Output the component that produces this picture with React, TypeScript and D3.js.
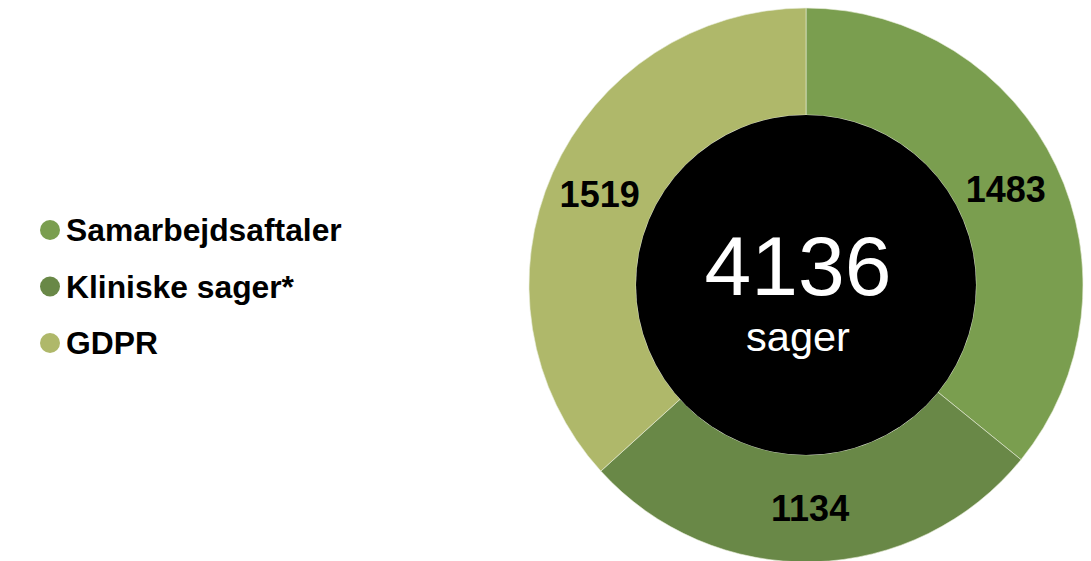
import React from 'react'
import * as d3 from 'd3'

const categories = ['Samarbejdsaftaler', 'Kliniske sager*', 'GDPR']
const values = [1483, 1134, 1519]
const colors = ['#7a9e4f', '#698847', '#afb86a']
const totalLabel = '4136'
const subLabel = 'sager'

const width = 1091
const height = 561
const cx = 806
const cy = 285
const outerR = 277
const innerR = 170
const font = '"Liberation Sans", Arial, sans-serif'

export default function App() {
  const pie = d3
    .pie<number>()
    .sort(null)
    .value((d) => d)
  const arcs = pie(values)
  const arc = d3.arc<d3.PieArcDatum<number>>().innerRadius(innerR).outerRadius(outerR)

  return (
    <svg
      width={width}
      height={height}
      style={{ position: 'absolute', left: 0, top: 0, background: '#fff' }}
    >
      <g transform={`translate(${cx},${cy})`}>
        {arcs.map((a, i) => (
          <path key={i} d={arc(a) || ''} fill={colors[i]} stroke="#e8ecd8" strokeWidth={0.6} />
        ))}
        <circle r={innerR} fill="#000" />
        {arcs.map((a, i) => {
          const [x, y] = arc.centroid(a)
          return (
            <text
              key={i}
              x={x - 2}
              y={y}
              dy="0.36em"
              textAnchor="middle"
              fontFamily={font}
              fontWeight="bold"
              fontSize={36}
              fill="#000"
            >
              {values[i]}
            </text>
          )
        })}
        <text x={-8} y={10} textAnchor="middle" fontFamily={font} fontSize={84} fill="#fff">
          {totalLabel}
        </text>
        <text x={-8} y={66} textAnchor="middle" fontFamily={font} fontSize={41.5} fill="#fff">
          {subLabel}
        </text>
      </g>
      <g>
        {categories.map((c, i) => (
          <g key={c} transform={`translate(0,${230 + i * 56.5})`}>
            <circle cx={50} cy={0} r={10} fill={colors[i]} />
            <text
              x={66}
              y={11}
              fontFamily={font}
              fontWeight="bold"
              fontSize={31.8}
              fill="#000"
            >
              {c}
            </text>
          </g>
        ))}
      </g>
    </svg>
  )
}
